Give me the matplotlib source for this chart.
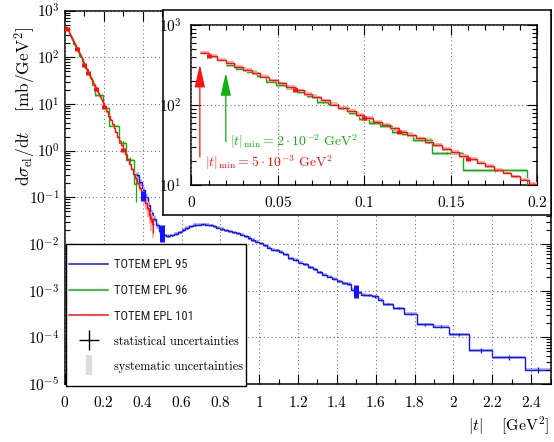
import numpy as np
import matplotlib
matplotlib.use("Agg")
import matplotlib.pyplot as plt
from matplotlib.lines import Line2D
from matplotlib.patches import Rectangle
from matplotlib.ticker import (MultipleLocator, LogLocator, FuncFormatter,
                               NullFormatter)
from matplotlib import font_manager as fm

plt.rcParams["mathtext.fontset"] = "cm"
plt.rcParams["font.family"] = ["DejaVu Sans"]

# ---------------- data: dsigma/dt [mb/GeV^2] vs |t| [GeV^2] ----------------
# TOTEM EPL 101 (beta* = 90 m), fine binning at low |t|, coarser above 0.2
red_edges = [0.005, 0.010, 0.015, 0.020, 0.025, 0.030, 0.035, 0.040, 0.045,
             0.050, 0.055, 0.060, 0.065, 0.070, 0.075, 0.080, 0.085, 0.090,
             0.095, 0.100, 0.105, 0.110, 0.115, 0.120, 0.125, 0.130, 0.135,
             0.140, 0.145, 0.150, 0.155, 0.160, 0.165, 0.170, 0.175, 0.180,
             0.185, 0.190, 0.195, 0.200,
             0.21, 0.22, 0.23, 0.24, 0.25, 0.26, 0.27, 0.28, 0.29, 0.30,
             0.31, 0.32, 0.33, 0.34, 0.35, 0.36, 0.37, 0.38, 0.39, 0.40,
             0.41, 0.42, 0.43, 0.44, 0.45, 0.46]
red_vals = [452, 410, 370, 336, 301, 276, 248, 226, 203, 186, 167, 153, 137,
            125, 114, 101, 93.0, 84.2, 75.5, 69.3, 62.0, 56.8, 51.0, 46.6,
            41.8, 38.3, 34.2, 31.5, 28.1, 25.9, 23.0, 21.2, 19.0, 17.4, 15.6,
            14.3, 12.8, 11.7, 10.4,
            8.5, 6.9, 5.6, 4.6, 3.75, 3.05, 2.5, 2.0, 1.6, 1.3, 1.05, 0.83,
            0.66, 0.52, 0.41, 0.32, 0.255, 0.20, 0.16, 0.125, 0.098, 0.076,
            0.058, 0.045, 0.034, 0.027]
red_stat = [0.01] * 54 + [0.015, 0.02, 0.02, 0.03, 0.03, 0.04, 0.05, 0.07,
                          0.10, 0.15, 0.35]
red_sys = [0.05] * 54 + [0.08, 0.10, 0.12, 0.15, 0.20, 0.25, 0.30, 0.35,
                         0.40, 0.45, 0.50]
red_mark_t = [0.01, 0.06, 0.10, 0.12, 0.16, 0.20, 0.30, 0.40]

# TOTEM EPL 96 (beta* = 90 m, earlier run)
green_edges = [0.020, 0.026, 0.032, 0.038, 0.043, 0.049, 0.055, 0.061, 0.067,
               0.073, 0.079, 0.085, 0.091, 0.097, 0.103, 0.109, 0.116, 0.122,
               0.128, 0.139, 0.157, 0.194, 0.228, 0.279, 0.314, 0.353, 0.377]
green_vals = [318, 285, 262, 232, 196, 178, 163, 146, 129, 108, 103, 92, 80,
              66, 60, 55, 46, 43.5, 36.5, 24.9, 15.2, 8.1, 3.33, 1.45, 0.62,
              0.195]
green_stat = [0.015] * 18 + [0.02, 0.03, 0.04, 0.05, 0.08, 0.12, 0.20, 0.60]
green_sys = [0.05] * 26

# TOTEM EPL 95 (beta* = 3.5 m), dip region and beyond
blue_edges = [0.365, 0.38, 0.395, 0.41, 0.425, 0.44, 0.455, 0.47, 0.485, 0.50,
              0.52, 0.54, 0.56, 0.58, 0.60, 0.62, 0.64, 0.66, 0.68, 0.70,
              0.72, 0.74, 0.76, 0.78, 0.80, 0.82, 0.84, 0.86, 0.88, 0.90,
              0.92, 0.94, 0.96, 0.98, 1.00, 1.02, 1.04, 1.06, 1.08, 1.10,
              1.125, 1.15, 1.175, 1.20, 1.225, 1.25, 1.275, 1.30, 1.325,
              1.35, 1.375, 1.40, 1.425, 1.45, 1.475, 1.50, 1.525, 1.55,
              1.58, 1.61, 1.64, 1.69, 1.745, 1.815, 1.895, 1.977, 2.08,
              2.20, 2.37, 2.50]
blue_vals = [0.30, 0.21, 0.145, 0.10, 0.068, 0.047, 0.034, 0.025, 0.019,
             0.0155, 0.0148, 0.0152, 0.0165, 0.018, 0.020, 0.022, 0.024,
             0.0255, 0.026, 0.0262, 0.026, 0.025, 0.024, 0.0225,
             0.021, 0.0198, 0.0188, 0.0178, 0.0168, 0.0158, 0.0146, 0.0134,
             0.0122, 0.0112, 0.0104, 0.0094, 0.0084, 0.0076, 0.0074,
             0.0068, 0.0060, 0.0049, 0.0046, 0.0040, 0.0037, 0.0032, 0.0029,
             0.0025, 0.0022, 0.0020, 0.0018, 0.0016, 0.00145, 0.0014,
             0.00105, 0.00092, 0.00082,
             0.00079, 0.00075, 0.00064, 0.00051, 0.00042,
             0.00032, 0.00019, 0.00017, 0.000115, 0.0000525, 0.000037,
             0.0000204]
blue_stat = [0.03] * 39 + [0.04] * 18 + [0.05] * 5 + [0.06, 0.08, 0.08, 0.09,
                                                      0.12, 0.12, 0.15]
blue_sys = [0.15] * 9 + [0.08] * 60
blue_mark_t = [0.40, 0.50, 1.50]
blue_mark_lo = [0.082, 0.011, 0.00069]
blue_mark_hi = [0.135, 0.025, 0.00132]

legend_labels = ["TOTEM EPL 95", "TOTEM EPL 96", "TOTEM EPL 101",
                 "statistical uncertainties", "systematic uncertainties"]

BLUE, GREEN, RED = "#1414ff", "#10b010", "#ff1010"
BLUE_L, GREEN_L, RED_L = "#b4b4ff", "#b0e4b0", "#ffb0b0"

W, H = 554, 442
fig = plt.figure(figsize=(W / 100, H / 100), dpi=100)


def fig_rect(x0, x1, y_top, y_bot):
    return [x0 / W, (H - y_bot) / H, (x1 - x0) / W, (y_bot - y_top) / H]


def step_value(edges, vals, t):
    i = np.searchsorted(edges, t, side="right") - 1
    return np.asarray(vals)[np.clip(i, 0, len(vals) - 1)]


def draw_series(a, edges, vals, stat, sys, color, light, lw=1.0, z=2):
    e = np.asarray(edges)
    v = np.asarray(vals)
    s = np.asarray(sys)
    c = 0.5 * (e[:-1] + e[1:])
    a.stairs(v * (1 + s), e, baseline=v * (1 - s), fill=True, color=light,
             lw=0, zorder=z)
    a.stairs(v, e, baseline=None, color=color, lw=lw, zorder=z + 0.2)
    a.errorbar(c, v, yerr=np.asarray(stat) * v, fmt="none", ecolor=color,
               elinewidth=0.9, capsize=0, zorder=z + 0.3)


def draw_marks(a, t, lo, hi, color, z=3):
    a.vlines(t, lo, hi, color=color, lw=3.6, zorder=z)


def style_axes(a, major_len=7, minor_len=3.5):
    a.tick_params(which="both", direction="in", top=True, right=True,
                  width=0.8, labelsize=11)
    a.tick_params(which="major", length=major_len)
    a.tick_params(which="minor", length=minor_len)
    a.tick_params(axis="y", pad=4)
    a.tick_params(axis="x", pad=8)
    a.grid(True, which="major", color="#777777", ls=(0, (1, 2.5)), lw=0.8)
    a.set_axisbelow(False)
    for sp in a.spines.values():
        sp.set_linewidth(1.1)


log_fmt = FuncFormatter(lambda v, p: r"$10^{%d}$" % round(np.log10(v)))
lin_fmt = FuncFormatter(lambda v, p: r"$%g$" % round(v, 3))

red_mark_v = step_value(red_edges, red_vals, np.asarray(red_mark_t))

# ---------------- main panel ----------------
ax = fig.add_axes(fig_rect(65, 550.5, 10.6, 384))
draw_series(ax, blue_edges, blue_vals, blue_stat, blue_sys, BLUE, BLUE_L, z=2)
draw_series(ax, green_edges, green_vals, green_stat, green_sys, GREEN, GREEN_L, z=3)
draw_series(ax, red_edges, red_vals, red_stat, red_sys, RED, RED_L, z=4)
draw_marks(ax, red_mark_t, red_mark_v * 0.9, red_mark_v * 1.1, RED, z=5)
draw_marks(ax, blue_mark_t, blue_mark_lo, blue_mark_hi, BLUE, z=5)

ax.set_xlim(0, 2.5)
ax.set_yscale("log")
ax.set_ylim(1e-5, 1e3)
ax.xaxis.set_major_locator(MultipleLocator(0.2))
ax.xaxis.set_minor_locator(MultipleLocator(0.1))
ax.xaxis.set_major_formatter(lin_fmt)
ax.yaxis.set_major_locator(LogLocator(base=10, numticks=20))
ax.yaxis.set_minor_locator(LogLocator(base=10, subs=np.arange(2, 10), numticks=200))
ax.yaxis.set_major_formatter(log_fmt)
ax.yaxis.set_minor_formatter(NullFormatter())
style_axes(ax)

fig.text(25 / W, 1 - 106 / H,
         r"$\mathrm{d}\sigma_{\mathrm{el}}/\mathrm{d}t\quad\ [\mathrm{mb/GeV^2}]$",
         rotation=90, ha="center", va="center", fontsize=12.5)
ax.text(0.997, -0.113, r"$|t|\quad\ [\mathrm{GeV^2}]$", transform=ax.transAxes,
        ha="right", va="center", fontsize=11.5)

# legend with its own square frame
ax.add_patch(Rectangle((0.002, -0.0055), 0.370, 0.3805, transform=ax.transAxes,
                       facecolor="white", edgecolor="black", lw=1.0,
                       zorder=8, clip_on=False))
handles = [Line2D([], [], color=BLUE, lw=1.1),
           Line2D([], [], color=GREEN, lw=1.1),
           Line2D([], [], color=RED, lw=1.1),
           Line2D([], [], color="black", marker="+", markersize=14, mew=1.0, ls="none"),
           Line2D([], [], color="#dcdcdc", marker="|", markersize=15, mew=4.5, ls="none")]
leg = ax.legend(handles, legend_labels, loc="upper left",
                bbox_to_anchor=(0.004, 0.344), frameon=False, fontsize=9,
                borderpad=0.2, borderaxespad=0, handlelength=3.1,
                handletextpad=0.5, labelspacing=1.03)
leg.set_zorder(9)
names = {f.name for f in fm.fontManager.ttflist}
if "Roboto Condensed" in names:
    sans_narrow = "Roboto Condensed"
elif "Liberation Sans Narrow" in names:
    sans_narrow = "Liberation Sans Narrow"
else:
    sans_narrow = "Roboto"
for i, txt in enumerate(leg.get_texts()):
    if i < 3:
        txt.set_fontfamily(sans_narrow)
        txt.set_fontsize(9)
        txt.set_color("#222222")
    else:
        txt.set_fontfamily("cmr10")
        txt.set_fontsize(8.8)

# ---------------- inset (low |t| zoom) ----------------
frame = fig.add_axes(fig_rect(163, 550.5, 9.5, 215))
frame.set_zorder(2)
frame.set_facecolor("white")
frame.set_xticks([])
frame.set_yticks([])
for sp in frame.spines.values():
    sp.set_linewidth(1.1)

ins = fig.add_axes(fig_rect(191.2, 537.2, 25, 185))
ins.set_zorder(3)
draw_series(ins, green_edges, green_vals, green_stat, green_sys, GREEN, GREEN_L, z=3)
draw_series(ins, red_edges, red_vals, red_stat, red_sys, RED, RED_L, z=4)
draw_marks(ins, red_mark_t, red_mark_v * 0.94, red_mark_v * 1.06, RED, z=5)
ins.set_xlim(0, 0.2)
ins.set_yscale("log")
ins.set_ylim(10, 1000)
ins.xaxis.set_major_locator(MultipleLocator(0.05))
ins.xaxis.set_minor_locator(MultipleLocator(0.01))
ins.xaxis.set_major_formatter(lin_fmt)
ins.yaxis.set_major_locator(LogLocator(base=10, numticks=10))
ins.yaxis.set_minor_locator(LogLocator(base=10, subs=np.arange(2, 10), numticks=100))
ins.yaxis.set_major_formatter(log_fmt)
ins.yaxis.set_minor_formatter(NullFormatter())
style_axes(ins)
ins.tick_params(axis="y", pad=7)
ins.tick_params(axis="x", pad=7)

ins.annotate("", xy=(0.005, 320), xytext=(0.005, 22.4),
             arrowprops=dict(arrowstyle="-|>,head_length=1.4,head_width=0.32",
                             color=RED, lw=0.9, shrinkA=0, shrinkB=0,
                             mutation_scale=10))
ins.annotate("", xy=(0.020, 252), xytext=(0.020, 34.9),
             arrowprops=dict(arrowstyle="-|>,head_length=1.4,head_width=0.32",
                             color=GREEN, lw=0.9, shrinkA=0, shrinkB=0,
                             mutation_scale=10))
ins.text(0.0225, 34.5, r"$|t|_{\min} = 2\cdot 10^{-2}\ \mathrm{GeV}^2$",
         color=GREEN, fontsize=10, ha="left", va="center")
ins.text(0.0080, 19.2, r"$|t|_{\min} = 5\cdot 10^{-3}\ \mathrm{GeV}^2$",
         color=RED, fontsize=10, ha="left", va="center")

fig.savefig("out.png", dpi=100)
